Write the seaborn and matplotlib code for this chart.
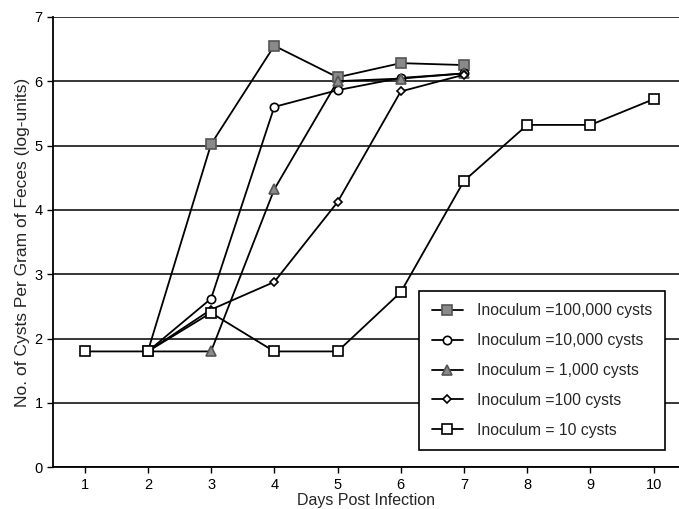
import pandas as pd
import seaborn as sns
import matplotlib.pyplot as plt

# values (log-units)
days_10 = [1, 2, 3, 4, 5, 6, 7, 8, 9, 10]
days_hi = [2, 3, 4, 5, 6, 7]

inoc_100000 = [1.8, 5.02, 6.55, 6.06, 6.28, 6.25]
inoc_10000 = [1.8, 2.62, 5.6, 5.86, 6.05, 6.12]
inoc_1000 = [1.8, 1.8, 4.32, 6.0, 6.04, 6.12]
inoc_100 = [1.8, 2.45, 2.88, 4.12, 5.84, 6.1]
inoc_10 = [1.8, 1.8, 2.4, 1.8, 1.8, 2.72, 4.45, 5.32, 5.32, 5.72]

labels = ["Inoculum =100,000 cysts", "Inoculum =10,000 cysts",
          "Inoculum = 1,000 cysts", "Inoculum =100 cysts",
          "Inoculum = 10 cysts"]

series = [
    (days_hi, inoc_100000, dict(marker="s", markersize=7, markerfacecolor="#8a8a8a", markeredgecolor="#555555")),
    (days_hi, inoc_10000, dict(marker="o", markersize=6, markerfacecolor="white", markeredgecolor="black")),
    (days_hi, inoc_1000, dict(marker="^", markersize=7, markerfacecolor="#8a8a8a", markeredgecolor="#555555")),
    (days_hi, inoc_100, dict(marker="D", markersize=4.5, markerfacecolor="white", markeredgecolor="black")),
    (days_10, inoc_10, dict(marker="s", markersize=7.5, markerfacecolor="white", markeredgecolor="black")),
]

sns.set_style("white")
plt.rcParams["font.family"] = ["Liberation Sans", "DejaVu Sans"]

fig = plt.figure(figsize=(6.79, 5.09), dpi=100)
ax = fig.add_axes([0.078, 0.082, 0.922, 0.885])

for (x, y, style), lab in zip(series, labels):
    df = pd.DataFrame({"day": x, "value": y})
    sns.lineplot(data=df, x="day", y="value", ax=ax, color="black",
                 linewidth=1.3, markeredgewidth=1.2, label=lab, **style)

ax.set_xlim(0.5, 10.4)
ax.set_ylim(0, 7)
ax.set_xticks(range(1, 11))
ax.set_yticks(range(0, 8))
ax.yaxis.grid(True, color="black", linewidth=1.1)
ax.xaxis.grid(False)
ax.set_axisbelow(True)
for s in ["top", "right"]:
    ax.spines[s].set_visible(False)
for s in ["left", "bottom"]:
    ax.spines[s].set_color("black")
    ax.spines[s].set_linewidth(1.3)
ax.tick_params(axis="both", direction="out", length=4, width=1, color="black",
               labelsize=10.5, labelcolor="black", bottom=True, left=True)
ax.set_xlabel("Days Post Infection", fontsize=11.5, labelpad=1)
ax.set_ylabel("No. of Cysts Per Gram of Feces (log-units)", fontsize=12.5, labelpad=3)

leg = ax.legend(loc="lower right", bbox_to_anchor=(0.99, 0.02), frameon=True,
                fancybox=False, edgecolor="black", fontsize=11.3,
                labelspacing=0.95, handlelength=2.0, borderpad=0.8,
                handletextpad=0.9, framealpha=1)
leg.get_frame().set_linewidth(1.2)

plt.savefig("out.png", dpi=100)
